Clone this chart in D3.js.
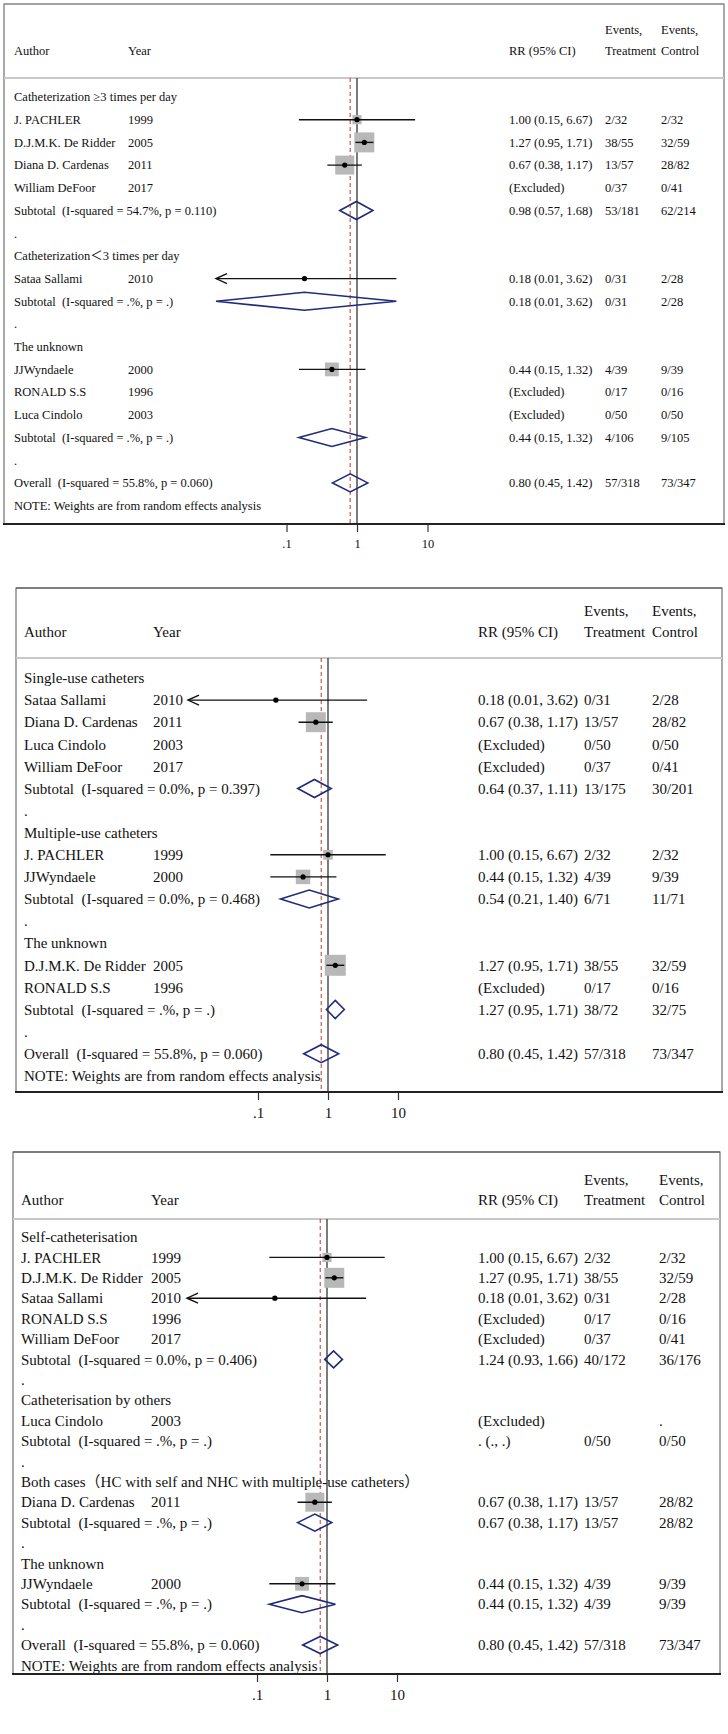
<!DOCTYPE html>
<html>
<head>
<meta charset="utf-8">
<script src="https://cdn.jsdelivr.net/npm/d3@7"></script>
<style>
  body { margin: 0; background: #fff; }
  text { font-family: "Liberation Serif", "Times New Roman", "Noto Sans CJK SC", serif; fill: #111; white-space: pre; }
</style>
</head>
<body>
<svg></svg>
<script>
const axisTicks = [0.1, 1, 10];
const tickLabels = ['.1', '1', '10'];
const overallRR = 0.80;
const headerCols = ['Author', 'Year', 'RR (95% CI)', 'Treatment', 'Control'];
// random-effects weights (%), drive the grey box size
const studyWeight = {'J. PACHLER': 8.5, 'D.J.M.K. De Ridder': 40, 'Diana D. Cardenas': 36, 'JJWyndaele': 19, 'Sataa Sallami': 2};

const panel1Rows = [
  {t: 'group', label: 'Catheterization ≥3 times per day'},
  {t: 'study', label: 'J. PACHLER', year: '1999', rr: 1.00, lo: 0.15, hi: 6.67, treat: '2/32', ctrl: '2/32'},
  {t: 'study', label: 'D.J.M.K. De Ridder', year: '2005', rr: 1.27, lo: 0.95, hi: 1.71, treat: '38/55', ctrl: '32/59'},
  {t: 'study', label: 'Diana D. Cardenas', year: '2011', rr: 0.67, lo: 0.38, hi: 1.17, treat: '13/57', ctrl: '28/82'},
  {t: 'study', label: 'William DeFoor', year: '2017', rr: null, treat: '0/37', ctrl: '0/41'},
  {t: 'sub', label: 'Subtotal  (I-squared = 54.7%, p = 0.110)', rr: 0.98, lo: 0.57, hi: 1.68, treat: '53/181', ctrl: '62/214'},
  {t: 'dot'},
  {t: 'group', label: 'Catheterization\uFF1C3 times per day'},
  {t: 'study', label: 'Sataa Sallami', year: '2010', rr: 0.18, lo: 0.01, hi: 3.62, treat: '0/31', ctrl: '2/28'},
  {t: 'sub', label: 'Subtotal  (I-squared = .%, p = .)', rr: 0.18, lo: 0.01, hi: 3.62, treat: '0/31', ctrl: '2/28'},
  {t: 'dot'},
  {t: 'group', label: 'The unknown'},
  {t: 'study', label: 'JJWyndaele', year: '2000', rr: 0.44, lo: 0.15, hi: 1.32, treat: '4/39', ctrl: '9/39'},
  {t: 'study', label: 'RONALD S.S', year: '1996', rr: null, treat: '0/17', ctrl: '0/16'},
  {t: 'study', label: 'Luca Cindolo', year: '2003', rr: null, treat: '0/50', ctrl: '0/50'},
  {t: 'sub', label: 'Subtotal  (I-squared = .%, p = .)', rr: 0.44, lo: 0.15, hi: 1.32, treat: '4/106', ctrl: '9/105'},
  {t: 'dot'},
  {t: 'sub', label: 'Overall  (I-squared = 55.8%, p = 0.060)', rr: 0.80, lo: 0.45, hi: 1.42, treat: '57/318', ctrl: '73/347'},
  {t: 'note', label: 'NOTE: Weights are from random effects analysis'}
];

const panel2Rows = [
  {t: 'group', label: 'Single-use catheters'},
  {t: 'study', label: 'Sataa Sallami', year: '2010', rr: 0.18, lo: 0.01, hi: 3.62, treat: '0/31', ctrl: '2/28'},
  {t: 'study', label: 'Diana D. Cardenas', year: '2011', rr: 0.67, lo: 0.38, hi: 1.17, treat: '13/57', ctrl: '28/82'},
  {t: 'study', label: 'Luca Cindolo', year: '2003', rr: null, treat: '0/50', ctrl: '0/50'},
  {t: 'study', label: 'William DeFoor', year: '2017', rr: null, treat: '0/37', ctrl: '0/41'},
  {t: 'sub', label: 'Subtotal  (I-squared = 0.0%, p = 0.397)', rr: 0.64, lo: 0.37, hi: 1.11, treat: '13/175', ctrl: '30/201'},
  {t: 'dot'},
  {t: 'group', label: 'Multiple-use catheters'},
  {t: 'study', label: 'J. PACHLER', year: '1999', rr: 1.00, lo: 0.15, hi: 6.67, treat: '2/32', ctrl: '2/32'},
  {t: 'study', label: 'JJWyndaele', year: '2000', rr: 0.44, lo: 0.15, hi: 1.32, treat: '4/39', ctrl: '9/39'},
  {t: 'sub', label: 'Subtotal  (I-squared = 0.0%, p = 0.468)', rr: 0.54, lo: 0.21, hi: 1.40, treat: '6/71', ctrl: '11/71'},
  {t: 'dot'},
  {t: 'group', label: 'The unknown'},
  {t: 'study', label: 'D.J.M.K. De Ridder', year: '2005', rr: 1.27, lo: 0.95, hi: 1.71, treat: '38/55', ctrl: '32/59'},
  {t: 'study', label: 'RONALD S.S', year: '1996', rr: null, treat: '0/17', ctrl: '0/16'},
  {t: 'sub', label: 'Subtotal  (I-squared = .%, p = .)', rr: 1.27, lo: 0.95, hi: 1.71, treat: '38/72', ctrl: '32/75'},
  {t: 'dot'},
  {t: 'sub', label: 'Overall  (I-squared = 55.8%, p = 0.060)', rr: 0.80, lo: 0.45, hi: 1.42, treat: '57/318', ctrl: '73/347'},
  {t: 'note', label: 'NOTE: Weights are from random effects analysis'}
];

const panel3Rows = [
  {t: 'group', label: 'Self-catheterisation'},
  {t: 'study', label: 'J. PACHLER', year: '1999', rr: 1.00, lo: 0.15, hi: 6.67, treat: '2/32', ctrl: '2/32'},
  {t: 'study', label: 'D.J.M.K. De Ridder', year: '2005', rr: 1.27, lo: 0.95, hi: 1.71, treat: '38/55', ctrl: '32/59'},
  {t: 'study', label: 'Sataa Sallami', year: '2010', rr: 0.18, lo: 0.01, hi: 3.62, treat: '0/31', ctrl: '2/28'},
  {t: 'study', label: 'RONALD S.S', year: '1996', rr: null, treat: '0/17', ctrl: '0/16'},
  {t: 'study', label: 'William DeFoor', year: '2017', rr: null, treat: '0/37', ctrl: '0/41'},
  {t: 'sub', label: 'Subtotal  (I-squared = 0.0%, p = 0.406)', rr: 1.24, lo: 0.93, hi: 1.66, treat: '40/172', ctrl: '36/176'},
  {t: 'dot'},
  {t: 'group', label: 'Catheterisation by others'},
  {t: 'study', label: 'Luca Cindolo', year: '2003', rr: null, treat: '', ctrl: '.'},
  {t: 'sub', label: 'Subtotal  (I-squared = .%, p = .)', rr: null, treat: '0/50', ctrl: '0/50'},
  {t: 'dot'},
  {t: 'group', label: 'Both cases\uFF08HC with self and NHC with multiple-use catheters\uFF09'},
  {t: 'study', label: 'Diana D. Cardenas', year: '2011', rr: 0.67, lo: 0.38, hi: 1.17, treat: '13/57', ctrl: '28/82'},
  {t: 'sub', label: 'Subtotal  (I-squared = .%, p = .)', rr: 0.67, lo: 0.38, hi: 1.17, treat: '13/57', ctrl: '28/82'},
  {t: 'dot'},
  {t: 'group', label: 'The unknown'},
  {t: 'study', label: 'JJWyndaele', year: '2000', rr: 0.44, lo: 0.15, hi: 1.32, treat: '4/39', ctrl: '9/39'},
  {t: 'sub', label: 'Subtotal  (I-squared = .%, p = .)', rr: 0.44, lo: 0.15, hi: 1.32, treat: '4/39', ctrl: '9/39'},
  {t: 'dot'},
  {t: 'sub', label: 'Overall  (I-squared = 55.8%, p = 0.060)', rr: 0.80, lo: 0.45, hi: 1.42, treat: '57/318', ctrl: '73/347'},
  {t: 'note', label: 'NOTE: Weights are from random effects analysis'}
];

// layout of the three panels
const layouts = [
  {top: 4, left: 4, right: 724, eventsY: 30, headY: 51, sepY: 78, row0: 97, rowH: 22.7, bottom: 524, topColor: '#999',
   font: 12.5, xAuthor: 14, xYear: 128, xRR: 509, xTreat: 605, xCtrl: 661, x1: 357, ppd: 70.5, box: 20, dia: 9},
  {top: 588, left: 16, right: 722, eventsY: 611, headY: 632, sepY: 658, row0: 678, rowH: 22.1, bottom: 1092, topColor: '#555',
   font: 15, xAuthor: 24, xYear: 153, xRR: 478, xTreat: 584, xCtrl: 652, x1: 328, ppd: 70, box: 21, dia: 9},
  {top: 1152, left: 13, right: 720, eventsY: 1180, headY: 1200, sepY: 1219, row0: 1237, rowH: 20.4, bottom: 1674, topColor: '#555',
   font: 15, xAuthor: 21, xYear: 151, xRR: 478, xTreat: 584, xCtrl: 659, x1: 327, ppd: 70, box: 20, dia: 8.5}
];

const svg = d3.select('svg').attr('width', 728).attr('height', 1734);
const fmt = d3.format('.2f');
const xMin = 0.01;

function drawPanel(rows, L) {
  const g = svg.append('g');
  const x = d3.scaleLog().domain([xMin, 10]).range([L.x1 - 2 * L.ppd, L.x1 + L.ppd]);
  const y = i => L.row0 + i * L.rowH;
  const boxSize = d3.scaleSqrt().domain([0, 40]).range([0, L.box]);

  // frame
  g.append('rect')
    .attr('x', L.left).attr('y', L.top)
    .attr('width', L.right - L.left).attr('height', L.bottom - L.top)
    .attr('fill', 'none').attr('stroke', '#555').attr('stroke-width', 1);
  g.append('line')
    .attr('x1', L.left).attr('x2', L.right).attr('y1', L.top).attr('y2', L.top)
    .attr('stroke', L.topColor).attr('stroke-width', 1.2);
  g.append('line')
    .attr('x1', L.left).attr('x2', L.right).attr('y1', L.sepY).attr('y2', L.sepY)
    .attr('stroke', '#c8c8c8').attr('stroke-width', 2);

  // header
  const hx = [L.xAuthor, L.xYear, L.xRR, L.xTreat, L.xCtrl];
  g.selectAll('.head').data(headerCols).join('text')
    .attr('x', (d, i) => hx[i]).attr('y', L.headY).attr('dy', '0.35em')
    .attr('font-size', L.font).text(d => d);
  g.selectAll('.ev').data([L.xTreat, L.xCtrl]).join('text')
    .attr('x', d => d).attr('y', L.eventsY).attr('dy', '0.35em')
    .attr('font-size', L.font).text('Events,');

  // null line and overall estimate line
  g.append('line')
    .attr('x1', x(1)).attr('x2', x(1)).attr('y1', L.sepY).attr('y2', L.bottom)
    .attr('stroke', '#333').attr('stroke-width', 1.3);
  g.append('line')
    .attr('x1', x(overallRR)).attr('x2', x(overallRR)).attr('y1', L.sepY).attr('y2', L.bottom)
    .attr('stroke', '#c0392b').attr('stroke-width', 1).attr('stroke-dasharray', '4,3');

  rows.forEach((d, i) => {
    const yy = y(i);
    const txt = (xx, s) => g.append('text').attr('x', xx).attr('y', yy).attr('dy', '0.35em')
      .attr('font-size', L.font).text(s);

    if (d.t === 'dot') {
      txt(L.xAuthor, '.').attr('fill', '#888');
      return;
    }
    txt(L.xAuthor, d.label);
    if (d.t === 'group' || d.t === 'note') return;
    if (d.t === 'study') txt(L.xYear, d.year);

    let ci;
    if (d.rr != null) ci = `${fmt(d.rr)} (${fmt(d.lo)}, ${fmt(d.hi)})`;
    else ci = d.t === 'study' ? '(Excluded)' : '. (., .)';
    const ciNode = txt(L.xRR, ci);
    const ciEnd = L.xRR + ciNode.node().getComputedTextLength();
    txt(Math.max(L.xTreat, ciEnd + L.font * 0.3), d.treat);
    txt(L.xCtrl, d.ctrl);

    if (d.rr == null) return;

    if (d.t === 'study') {
      const w = studyWeight[d.label] || 0;
      const s = boxSize(w);
      g.append('rect')
        .attr('x', x(d.rr) - s / 2).attr('y', yy - s / 2)
        .attr('width', s).attr('height', s)
        .attr('fill', '#b8b8b8');
      const x0 = x(Math.max(d.lo, xMin));
      g.append('line')
        .attr('x1', x0).attr('x2', x(Math.min(d.hi, 10)))
        .attr('y1', yy).attr('y2', yy)
        .attr('stroke', '#111').attr('stroke-width', 1.4);
      if (d.lo <= xMin) {
        g.append('path')
          .attr('d', `M${x0 + 11},${yy - 5}L${x0},${yy}L${x0 + 11},${yy + 5}`)
          .attr('fill', 'none').attr('stroke', '#111').attr('stroke-width', 1.4);
      }
      g.append('circle')
        .attr('cx', x(d.rr)).attr('cy', yy).attr('r', 2.6)
        .attr('fill', '#000');
    } else {
      g.append('path')
        .attr('d', `M${x(d.lo)},${yy}L${x(d.rr)},${yy - L.dia}L${x(d.hi)},${yy}L${x(d.rr)},${yy + L.dia}Z`)
        .attr('fill', 'none').attr('stroke', '#1f2b7b').attr('stroke-width', 1.6);
    }
  });

  // x axis under the frame
  const axis = d3.axisBottom(x)
    .tickValues(axisTicks)
    .tickFormat((d, i) => tickLabels[i])
    .tickSize(8).tickPadding(7);
  const ag = g.append('g')
    .attr('transform', `translate(0,${L.bottom})`)
    .call(axis);
  ag.select('.domain').remove();
  ag.selectAll('.tick line').attr('stroke', '#333').attr('stroke-width', 1.2);
  ag.selectAll('.tick text')
    .attr('font-family', '"Liberation Serif", "Times New Roman", serif')
    .attr('font-size', L.font).attr('fill', '#111');

  g.append('line')
    .attr('x1', L.left - 1).attr('x2', L.right + 1).attr('y1', L.bottom).attr('y2', L.bottom)
    .attr('stroke', '#222').attr('stroke-width', 2);
}

drawPanel(panel1Rows, layouts[0]);
drawPanel(panel2Rows, layouts[1]);
drawPanel(panel3Rows, layouts[2]);
</script>
</body>
</html>
